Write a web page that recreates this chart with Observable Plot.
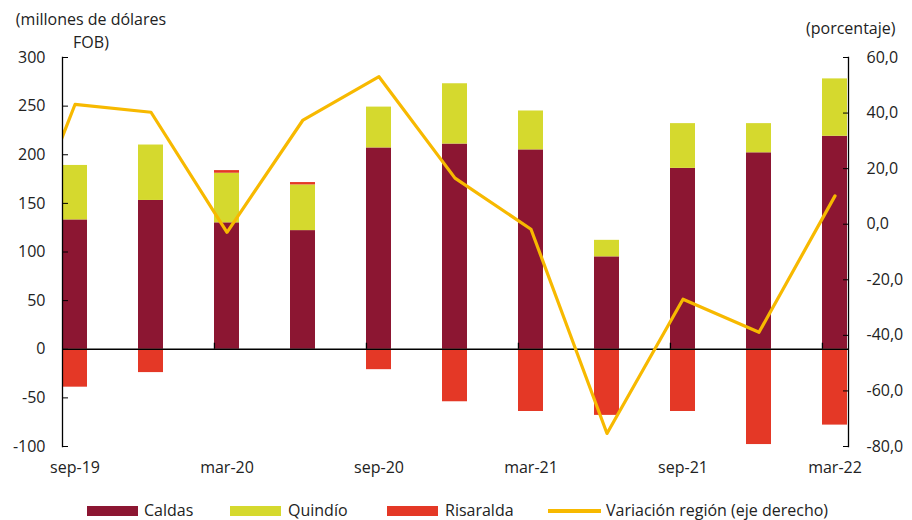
<!DOCTYPE html>
<html><head><meta charset="utf-8">
<script src="https://cdn.jsdelivr.net/npm/d3@7"></script>
<script src="https://cdn.jsdelivr.net/npm/@observablehq/plot@0.6"></script>
<style>
body{margin:0;background:#fff;font-family:"Open Sans",sans-serif;color:#222;}
#wrap{position:relative;width:912px;height:520px;overflow:hidden;}
.t{position:absolute;font-size:16px;white-space:nowrap;}
#legend{position:absolute;left:0;top:500px;width:912px;height:20px;}
.sw{position:absolute;}
.lt{position:absolute;top:0;font-size:16px;line-height:20px;height:20px;white-space:nowrap;}
</style></head><body>
<div id="wrap">
  <div id="chart"></div>
  <div class="t" style="left:10px;top:8px;width:162px;text-align:center;line-height:23px">(millones de dólares<br>FOB)</div>
  <div class="t" style="left:806px;top:17px;">(porcentaje)</div>
  <div id="legend"></div>
</div>
<script>
// ---- data ----
const quarters = ["sep-19","dic-19","mar-20","jun-20","sep-20","dic-20","mar-21","jun-21","sep-21","dic-21","mar-22"];
const series = ["Caldas","Quindío","Risaralda"];
const caldas    = [133, 153, 130, 122, 207, 211, 205, 95, 186, 202, 219];
const quindio   = [56, 57, 51, 47, 42, 62, 40, 17, 46, 30, 59];
const risaralda = [-39, -24, 2.7, 2.4, -21, -54, -64, -68, -64, -98, -78];
const lineName = "Variación región (eje derecho)";
const lineQuarters = ["jun-19","sep-19","dic-19","mar-20","jun-20","sep-20","dic-20","mar-21","jun-21","sep-21","dic-21","mar-22"];
const variacion = [-27, 43.1, 40.3, -2.9, 37.5, 53.1, 16.6, -1.8, -75.3, -27.0, -38.9, 10.2];
const xLabels = ["sep-19","mar-20","sep-20","mar-21","sep-21","mar-22"];
const xTickMarks = ["mar-20","sep-20","mar-21","sep-21","mar-22"];
const leftTicks = [-100, -50, 0, 50, 100, 150, 200, 250, 300];
const rightTicks = [-80, -60, -40, -20, 0, 20, 40, 60];

const colors = ["#8C1632", "#D5D92E", "#E43826"];
const lineColor = "#F7B900";

// ---- build ----
const values = [caldas, quindio, risaralda];
const rows = [];
series.forEach((s, k) => values[k].forEach((v, i) => rows.push({q: quarters[i], serie: s, v})));
const lineRows = lineQuarters.map((q, i) => ({q, v: variacion[i]}));
const toLeft = d3.scaleLinear([-80, 60], [-100, 300]);

const pi = 0.67;
const step = (848 - 62) / (quarters.length - pi);
const bw = step * (1 - pi);

const fmtR = d => toLeft.invert(d).toFixed(1).replace(".", ",").replace("-0,0", "0,0");

const chart = Plot.plot({
  width: 912, height: 498,
  marginTop: 57, marginBottom: 52, marginLeft: 62, marginRight: 64,
  style: {fontFamily: "'Open Sans', sans-serif", fontSize: "16px", color: "#222", background: "#fff"},
  x: {type: "band", domain: lineQuarters, range: [62 - step, 848], paddingInner: pi, paddingOuter: 0, axis: null, label: null},
  y: {domain: [-100, 300], axis: null, label: null},
  color: {domain: series, range: colors},
  marks: [
    Plot.barY(rows, {x: "q", y: "v", fill: "serie", clip: true}),
    Plot.ruleY([0], {stroke: "#000", strokeWidth: 1.3}),
    Plot.ruleX(xTickMarks, {x: d => d, y1: 0, y2: 6.2, dx: -bw / 2, stroke: "#000", strokeWidth: 1.3}),
    Plot.line(lineRows, {x: "q", y: d => toLeft(d.v), stroke: lineColor, strokeWidth: 3.2, clip: true}),
    Plot.frame({anchor: "left", stroke: "#000", strokeWidth: 1.3}),
    Plot.frame({anchor: "right", stroke: "#000", strokeWidth: 1.3}),
    Plot.axisX({ticks: xLabels, tickSize: 0, tickPadding: 15, fontSize: 16, fill: "#222", label: null}),
    Plot.axisY({anchor: "left", ticks: leftTicks, tickSize: 0, tickPadding: 17, fontSize: 16, fill: "#222", tickFormat: d => String(d), label: null}),
    Plot.axisY({anchor: "left", ticks: leftTicks, tickSize: 6, dx: 6, stroke: "#000", tickFormat: () => "", label: null}),
    Plot.axisY({anchor: "right", ticks: rightTicks.map(toLeft), tickSize: 0, tickPadding: 18, fontSize: 16, fill: "#222", tickFormat: fmtR, label: null}),
    Plot.axisY({anchor: "right", ticks: rightTicks.map(toLeft), tickSize: 6, dx: -6, stroke: "#000", tickFormat: () => "", label: null})
  ]
});
document.getElementById("chart").appendChild(chart);

// ---- legend ----
const legend = document.getElementById("legend");
const items = [
  {name: series[0], color: colors[0], sx: 87, tx: 144, type: "box"},
  {name: series[1], color: colors[1], sx: 230, tx: 288, type: "box"},
  {name: series[2], color: colors[2], sx: 387, tx: 445, type: "box"},
  {name: lineName, color: lineColor, sx: 548, tx: 606, type: "line"}
];
items.forEach(it => {
  const sw = document.createElement("div");
  sw.className = "sw";
  sw.style.left = it.sx + "px";
  sw.style.width = (it.type === "box" ? 51 : 53) + "px";
  sw.style.background = it.color;
  if (it.type === "box") { sw.style.top = "6px"; sw.style.height = "10px"; }
  else { sw.style.top = "9.25px"; sw.style.height = "3.5px"; }
  legend.appendChild(sw);
  const t = document.createElement("div");
  t.className = "lt";
  t.style.left = it.tx + "px";
  t.textContent = it.name;
  legend.appendChild(t);
});
</script>
</body></html>
